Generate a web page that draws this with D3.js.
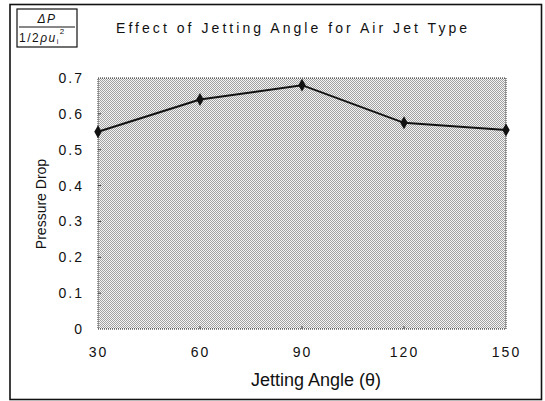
<!DOCTYPE html>
<html>
<head>
<meta charset="utf-8">
<script src="https://cdn.jsdelivr.net/npm/d3@7"></script>
<style>
  body { margin: 0; background: #fff; }
  text { font-family: "Liberation Sans", Arial, sans-serif; fill: #111; }
</style>
</head>
<body>
<svg id="chart" width="545" height="401"></svg>
<script>
//*************************************************
// Data
//*************************************************
var angles = [30, 60, 90, 120, 150];
var pressureDrop = [0.55, 0.64, 0.68, 0.575, 0.555];
var xTicks = [30, 60, 90, 120, 150];
var yTicks = [0, 0.1, 0.2, 0.3, 0.4, 0.5, 0.6, 0.7];

var _plot = { left: 98, right: 506, top: 78, bottom: 329 };

var svg = d3.select('#chart');

// stipple pattern for the plot area (checkerboard halftone)
var defs = svg.append('defs');
var pat = defs.append('pattern')
    .attr('id', 'stipple')
    .attr('patternUnits', 'userSpaceOnUse')
    .attr('width', 2).attr('height', 2);
pat.append('rect').attr('width', 2).attr('height', 2).attr('fill', '#f4f4f4');
pat.append('rect').attr('x', 0).attr('y', 0).attr('width', 1).attr('height', 1).attr('fill', '#a2a2a2');
pat.append('rect').attr('x', 1).attr('y', 1).attr('width', 1).attr('height', 1).attr('fill', '#a2a2a2');

//----------------------------------------------------------------------------------
// Outer frame
//----------------------------------------------------------------------------------
svg.append('rect')
    .attr('x', 10).attr('y', 4.5).attr('width', 531.5).attr('height', 395)
    .attr('fill', 'none').attr('stroke', '#111').attr('stroke-width', 1.6);

//----------------------------------------------------------------------------------
// Scales
//----------------------------------------------------------------------------------
var x = d3.scaleLinear().domain([30, 150]).range([_plot.left, _plot.right]);
var y = d3.scaleLinear().domain([0, 0.7]).range([_plot.bottom, _plot.top]);

var g = svg.append('g');

g.append('rect')
    .attr('x', _plot.left).attr('y', _plot.top)
    .attr('width', _plot.right - _plot.left).attr('height', _plot.bottom - _plot.top)
    .attr('fill', 'url(#stipple)')
    .attr('stroke', '#222').attr('stroke-width', 1).attr('stroke-dasharray', '1,1');

// axes
var yAxis = d3.axisLeft(y).tickValues(yTicks).tickSize(0).tickPadding(14)
    .tickFormat(function (d){ return d === 0 ? '0' : d3.format('.1f')(d); });
var yG = g.append('g').attr('transform', 'translate(' + _plot.left + ',0)').call(yAxis);
yG.select('.domain').remove();
yG.selectAll('text').style('font-size', '14px').style('letter-spacing', '2px');

var xAxis = d3.axisBottom(x).tickValues(xTicks).tickSize(0).tickPadding(18);
var xG = g.append('g').attr('transform', 'translate(0,' + _plot.bottom + ')').call(xAxis);
xG.select('.domain').remove();
xG.selectAll('text').style('font-size', '14px').style('letter-spacing', '2px');

// small inner ticks
g.selectAll('.ytk').data(yTicks.slice(1, -1)).enter().append('line')
    .attr('x1', _plot.left).attr('x2', _plot.left + 3)
    .attr('y1', function (d){ return y(d); }).attr('y2', function (d){ return y(d); })
    .attr('stroke', '#444');
g.selectAll('.xtk').data(xTicks.slice(1, -1)).enter().append('line')
    .attr('x1', function (d){ return x(d); }).attr('x2', function (d){ return x(d); })
    .attr('y1', _plot.bottom).attr('y2', _plot.bottom - 3)
    .attr('stroke', '#444');

//----------------------------------------------------------------------------------
// Series
//----------------------------------------------------------------------------------
var pts = angles.map(function (a, i){ return [a, pressureDrop[i]]; });
var line = d3.line().x(function (d){ return x(d[0]); }).y(function (d){ return y(d[1]); });
g.append('path').datum(pts).attr('d', line)
    .attr('fill', 'none').attr('stroke', '#111').attr('stroke-width', 2);
g.selectAll('.pt').data(pts).enter().append('path')
    .attr('transform', function (d){ return 'translate(' + x(d[0]) + ',' + y(d[1]) + ')'; })
    .attr('d', d3.symbol().type(d3.symbolDiamond).size(48))
    .attr('fill', '#111');

//----------------------------------------------------------------------------------
// Titles
//----------------------------------------------------------------------------------
svg.append('text').attr('x', 116).attr('y', 33)
    .style('font-size', '14px').style('letter-spacing', '3.05px')
    .text('Effect of Jetting Angle for Air Jet Type');

svg.append('text').attr('x', 316).attr('y', 386)
    .attr('text-anchor', 'middle').style('font-size', '18px')
    .text('Jetting Angle (\u03b8)');

svg.append('text')
    .attr('transform', 'translate(46,' + 204 + ') rotate(-90)')
    .attr('text-anchor', 'middle').style('font-size', '14px')
    .text('Pressure Drop');

// fraction box
var fb = svg.append('g');
fb.append('rect').attr('x', 17).attr('y', 9).attr('width', 60).attr('height', 38)
    .attr('fill', 'none').attr('stroke', '#111').attr('stroke-width', 1.2);
fb.append('line').attr('x1', 19).attr('x2', 75).attr('y1', 27).attr('y2', 27)
    .attr('stroke', '#111').attr('stroke-width', 1);
fb.append('text').attr('x', 47).attr('y', 23).attr('text-anchor', 'middle')
    .style('font-size', '12px').style('font-style', 'italic').style('letter-spacing', '1.5px')
    .text('\u0394P');
var den = fb.append('text').attr('x', 19).attr('y', 42)
    .style('font-size', '12px').style('letter-spacing', '1.5px');
den.append('tspan').text('1/2');
den.append('tspan').style('font-style', 'italic').text('\u03c1u');
den.append('tspan').attr('dy', 2).style('font-size', '7px').text('i');
den.append('tspan').attr('dy', -10).style('font-size', '8px').text('2');
</script>
</body>
</html>
